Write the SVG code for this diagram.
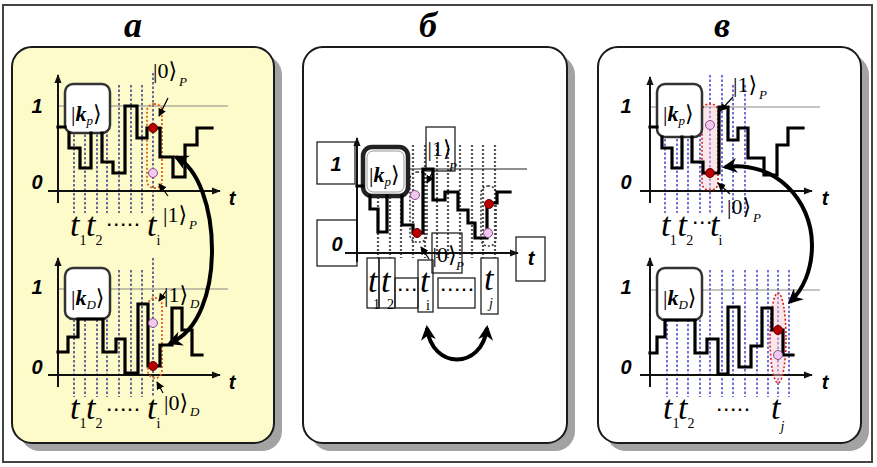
<svg xmlns="http://www.w3.org/2000/svg" width="877" height="467" viewBox="0 0 877 467">
<defs>
<style>
.frame{fill:#fff;stroke:#444;stroke-width:2}
.shadow{fill:#a3a3a3}
.pa{fill:#fdfbc9;stroke:#1a1a1a;stroke-width:2}
.pw{fill:#fff;stroke:#1a1a1a;stroke-width:2}
.axis{stroke:#111;stroke-width:2;fill:none}
.lvl{stroke:#8a8a8a;stroke-width:1.2;fill:none}
.sig{stroke:#000;stroke-width:3.2;fill:none;stroke-linejoin:miter;stroke-linecap:square}
.dn{stroke:#1c1c7a;stroke-width:1.3;stroke-dasharray:2.5 2;fill:none}
.db{stroke:#2525c8;stroke-width:1.3;stroke-dasharray:2.5 2;fill:none}
.dg{stroke:#555;stroke-width:2.2;stroke-dasharray:2 2;fill:none}
.kbox{fill:#fff;stroke:#333;stroke-width:2.5}
.kboxb{fill:#fff;stroke:#222;stroke-width:4.5}
.lbox{fill:#fff;stroke:#222;stroke-width:1.3}
.obox{fill:none;stroke:#222;stroke-width:1.3}
.zone{fill:none;stroke:#e0601c;stroke-width:1.8;stroke-dasharray:2 2}
.zonep{fill:#f6c8d0;fill-opacity:.45;stroke:#d82020;stroke-width:1.6;stroke-dasharray:2 2}
.zoneb{fill:none;stroke:#333;stroke-width:1.5;stroke-dasharray:2 2}
.red{fill:#b80000;stroke:#6a0000;stroke-width:1}
.pink{fill:#f3c8f0;stroke:#8a4f8f;stroke-width:1}
.curve{stroke:#000;stroke-width:4;fill:none}
.sarr{stroke:#000;stroke-width:1.2;fill:none}
.hd{font-family:"Liberation Serif",serif;font-style:italic;font-weight:bold;font-size:36px;fill:#000}
.ax{font-family:"Liberation Sans",Arial,sans-serif;font-style:italic;font-weight:bold;font-size:20px;fill:#000}
.tt{font-family:"Liberation Serif",serif;font-style:italic;font-size:34px;fill:#000}
.sb{font-family:"Liberation Serif",serif;font-size:14px;fill:#000}
.kt{font-family:"Liberation Serif","DejaVu Serif",serif;font-size:22px;fill:#000}
.ks{font-family:"Liberation Serif",serif;font-style:italic;font-weight:normal;font-size:13px;fill:#000}
.kk{font-style:italic;font-weight:bold}
.dt{font-family:"Liberation Sans",Arial,sans-serif;font-weight:bold;font-size:16px;letter-spacing:2.5px;fill:#000}
</style>
<marker id="ax" viewBox="0 0 10 10" refX="9" refY="5" markerWidth="9" markerHeight="9" markerUnits="userSpaceOnUse" orient="auto"><path d="M0,1L10,5L0,9z" fill="#111"/></marker>
<marker id="ca" viewBox="0 0 10 10" refX="8" refY="5" markerWidth="15" markerHeight="15" markerUnits="userSpaceOnUse" orient="auto-start-reverse"><path d="M0,0L10,5L0,10L3,5z" fill="#000"/></marker>
<marker id="sa" viewBox="0 0 10 10" refX="9" refY="5" markerWidth="8" markerHeight="8" markerUnits="userSpaceOnUse" orient="auto"><path d="M0,0L10,5L0,10z" fill="#000"/></marker>
</defs>

<rect class="frame" x="3" y="5" width="869" height="457"/>

<g id="headers">
<text class="hd" x="133" y="37" text-anchor="middle">а</text>
<text class="hd" x="428" y="37" text-anchor="middle">б</text>
<text class="hd" x="722" y="37" text-anchor="middle">в</text>
</g>

<g id="panel-a">
<rect class="shadow" x="20" y="55" width="262" height="396" rx="20"/>
<rect class="pa" x="12" y="47" width="262" height="396" rx="20"/>
<g id="a-top">
<path class="dn" d="M74,85V213M85,85V213M97,85V213M107,85V213M119,85V213M131,85V213M142,85V213M153,73V213"/>
<path class="lvl" d="M58,106H228"/>
<line class="axis" x1="58" y1="203" x2="58" y2="75" marker-end="url(#ax)"/>
<line class="axis" x1="48" y1="191" x2="220" y2="191" marker-end="url(#ax)"/>
<rect class="zone" x="147" y="104" width="15" height="84" rx="7"/>
<g id="a-top-kp"><rect class="kbox" x="65" y="84" width="45" height="49" rx="8"/>
<text class="kt" x="71" y="121" font-size="24">|<tspan class="kk">k</tspan><tspan class="ks" dy="4">p</tspan><tspan dy="-4">⟩</tspan></text></g>
<path class="sig" d="M58,127H65M69,133V148H80V168H91V133M102,133V162H113V173H125V106H137V138H147V128H160V157H173V177H185V145H197V128H212"/>
<circle class="red" cx="153" cy="128" r="4.5"/>
<circle class="pink" cx="153" cy="173" r="4.5"/>
<text class="ax" x="37" y="113" text-anchor="middle">1</text>
<text class="ax" x="37" y="189" text-anchor="middle">0</text>
<text class="ax" x="232" y="205" text-anchor="middle">t</text>
<text class="kt" x="153" y="78">|0⟩</text><text class="ks" x="179" y="86">P</text>
<text class="kt" x="163" y="222">|1⟩</text><text class="ks" x="189" y="229">P</text>
<text class="tt" x="70" y="236">t</text><text class="sb" x="79.6" y="245">1</text>
<text class="tt" x="86" y="236">t</text><text class="sb" x="95.6" y="245">2</text>
<text class="dt" x="107" y="226">.....</text>
<text class="tt" x="147" y="236">t</text><text class="sb" x="156.6" y="245">i</text>
</g>
<g id="a-bottom">
<path class="dn" d="M74,270V397M85,270V397M97,270V397M107,270V397M119,270V397M131,270V397M142,270V397M153,258V397"/>
<path class="lvl" d="M58,289H228"/>
<line class="axis" x1="58" y1="387" x2="58" y2="258" marker-end="url(#ax)"/>
<line class="axis" x1="48" y1="375" x2="220" y2="375" marker-end="url(#ax)"/>
<rect class="zone" x="148" y="298" width="14" height="80" rx="7"/>
<g id="a-bottom-kd"><rect class="kbox" x="65" y="268" width="45" height="51" rx="8"/>
<text class="kt" x="71" y="305" font-size="24">|<tspan class="kk">k</tspan><tspan class="ks" dy="4">D</tspan><tspan dy="-4">⟩</tspan></text></g>
<path class="sig" d="M58,352H68V337H78V319H103V352H116V339H125V373H138V304H148V366H160V345H172V308H182V330H192V355H202"/>
<circle class="red" cx="153" cy="366" r="4.5"/>
<circle class="pink" cx="153" cy="323" r="4.5"/>
<text class="ax" x="37" y="294" text-anchor="middle">1</text>
<text class="ax" x="37" y="374" text-anchor="middle">0</text>
<text class="ax" x="232" y="389" text-anchor="middle">t</text>
<text class="kt" x="164" y="302">|1⟩</text><text class="ks" x="190" y="308">D</text>
<text class="kt" x="164" y="410">|0⟩</text><text class="ks" x="190" y="416">D</text>
<text class="tt" x="70" y="419">t</text><text class="sb" x="79.6" y="428">1</text>
<text class="tt" x="86" y="419">t</text><text class="sb" x="95.6" y="428">2</text>
<text class="dt" x="107" y="411">.....</text>
<text class="tt" x="147" y="419">t</text><text class="sb" x="156.6" y="428">i</text>
</g>
</g>

<g id="panel-b">
<rect class="shadow" x="311" y="55" width="264" height="396" rx="20"/>
<rect class="pw" x="303" y="47" width="264" height="396" rx="20"/>
<path class="dg" d="M378,145V258M390,145V258M401,145V258M413,145V258M425,145V258M437,145V258M448,145V258M460,145V258M472,145V258M483,145V258M495,145V258"/>
<path class="lvl" d="M408,169H527" style="stroke:#222"/>
<g id="b-label-1"><rect class="lbox" x="317" y="142" width="38" height="42"/><text class="ax" x="336" y="171" text-anchor="middle" font-size="23">1</text></g>
<g id="b-label-0"><rect class="lbox" x="317" y="220" width="40" height="46"/><text class="ax" x="337" y="251" text-anchor="middle" font-size="23">0</text></g>
<g id="b-label-t"><rect class="lbox" x="516" y="237" width="29" height="44"/><text class="ax" x="531" y="265" text-anchor="middle" font-size="25">t</text></g>
<line class="axis" x1="357" y1="262" x2="357" y2="138" marker-end="url(#ax)"/>
<line class="axis" x1="345" y1="253" x2="518" y2="253" marker-end="url(#ax)"/>
<rect class="zoneb" x="410" y="172" width="17" height="70" rx="7"/>
<rect class="zoneb" x="481" y="186" width="15" height="60" rx="7"/>
<g id="b-kp"><rect class="kboxb" x="363" y="147" width="45" height="49" rx="9"/>
<rect x="367" y="151" width="37" height="41" rx="6" fill="none" stroke="#999" stroke-width="1"/>
<text class="kt" x="369" y="182" font-size="27">|<tspan class="kk">k</tspan><tspan class="ks" dy="4">p</tspan><tspan dy="-4">⟩</tspan></text></g>
<g id="b-ket1"><rect class="obox" x="426" y="127" width="29" height="44"/><text class="kt" x="427.5" y="156" font-size="18">|1⟩</text><text class="ks" x="449" y="171" font-size="10">P</text></g>
<g id="b-ket0"><rect class="obox" x="432" y="233" width="30" height="40"/><text class="kt" x="432.5" y="262" font-size="18">|0⟩</text><text class="ks" x="456" y="270" font-size="10">P</text></g>
<path class="sig" d="M357,186H363M370,196V209H378V232H387V196M402,196V225H413V233H423V169H433V200H445V192H458V210H468V223H475V238H487V203H497V192H510"/>
<circle class="red" cx="417" cy="233" r="4.5"/>
<circle class="pink" cx="415" cy="195" r="4.5"/>
<circle class="red" cx="489" cy="204" r="4.5"/>
<circle class="pink" cx="488" cy="233" r="4.5"/>
<g id="b-times">
<rect class="obox" x="367" y="258" width="12" height="50"/>
<rect class="obox" x="379" y="258" width="16" height="50"/>
<rect class="obox" x="395" y="278" width="23" height="30"/>
<rect class="obox" x="418" y="260" width="15" height="52"/>
<rect class="obox" x="438" y="278" width="37" height="30"/>
<rect class="obox" x="481" y="258" width="17" height="56"/>
<text class="tt" x="368" y="292" font-size="36">t</text><text class="sb" x="373" y="309" font-size="10">1</text>
<text class="tt" x="381" y="292" font-size="36">t</text><text class="sb" x="387" y="309" font-size="10">2</text>
<text class="dt" x="398" y="291" font-size="14" letter-spacing="1.5">...</text>
<text class="tt" x="420" y="292" font-size="36">t</text><text class="sb" x="426" y="310" font-size="10">i</text>
<text class="dt" x="441" y="291" font-size="14" letter-spacing="1.8">.....</text>
<text class="tt" x="484" y="290" font-size="36">t</text><text class="sb" x="489" y="308" font-size="10" font-style="italic">j</text>
</g>
</g>

<g id="panel-c">
<rect class="shadow" x="606" y="55" width="263" height="396" rx="20"/>
<rect class="pw" x="598" y="47" width="263" height="396" rx="20"/>
<g id="c-top">
<path class="db" d="M665,85V213M677,85V213M688,85V213M700,85V213M710,75V213M722,75V213M733,85V213M745,85V213"/>
<path class="lvl" d="M650,107H820"/>
<line class="axis" x1="650" y1="203" x2="650" y2="77" marker-end="url(#ax)"/>
<line class="axis" x1="640" y1="191" x2="812" y2="191" marker-end="url(#ax)"/>
<rect class="zonep" x="702" y="104" width="16" height="86" rx="7"/>
<g id="c-top-kp"><rect class="kbox" x="657" y="84" width="45" height="53" rx="8"/>
<text class="kt" x="663" y="121" font-size="24">|<tspan class="kk">k</tspan><tspan class="ks" dy="4">p</tspan><tspan dy="-4">⟩</tspan></text></g>
<path class="sig" d="M650,127H657M662,137V148H672V168H682V137M692,137V162H703V173H719V107H728V140H738V128H748V158H764V175H777V145H788V128H803"/>
<circle class="red" cx="710" cy="173" r="4.5"/>
<circle class="pink" cx="710" cy="125" r="4.5"/>
<text class="ax" x="626" y="113" text-anchor="middle">1</text>
<text class="ax" x="626" y="189" text-anchor="middle">0</text>
<text class="ax" x="825" y="205" text-anchor="middle">t</text>
<text class="kt" x="733" y="92">|1⟩</text><text class="ks" x="759" y="99">P</text>
<text class="kt" x="727" y="214">|0⟩</text><text class="ks" x="753" y="222">P</text>
<text class="tt" x="661" y="236" font-size="30">t</text><text class="sb" x="669.8" y="245" font-size="13">1</text>
<text class="tt" x="677.5" y="236" font-size="30">t</text><text class="sb" x="686.3" y="245" font-size="13">2</text>
<text class="dt" x="693" y="224" font-size="10" letter-spacing="0.5">...</text>
<text class="tt" x="710" y="236" font-size="30">t</text><text class="sb" x="718.6" y="245" font-size="13">i</text>
</g>
<g id="c-bottom">
<path class="db" d="M667,270V397M677,270V397M688,270V397M700,270V397M710,270V397M722,270V397M733,270V397M745,270V397M757,270V397M768,270V397M778,270V397M789,270V397"/>
<path class="lvl" d="M650,290H820"/>
<line class="axis" x1="650" y1="387" x2="650" y2="258" marker-end="url(#ax)"/>
<line class="axis" x1="640" y1="375" x2="812" y2="375" marker-end="url(#ax)"/>
<ellipse class="zonep" cx="778" cy="338" rx="8" ry="45"/>
<g id="c-bottom-kd"><rect class="kbox" x="657" y="268" width="45" height="52" rx="8"/>
<text class="kt" x="663" y="305" font-size="24">|<tspan class="kk">k</tspan><tspan class="ks" dy="4">D</tspan><tspan dy="-4">⟩</tspan></text></g>
<path class="sig" d="M650,353H657V337H665V320H695V353H707V339H718V374H728V307H739V367H751V346H762V308H772V330H783V355H793"/>
<circle class="red" cx="778" cy="330" r="4.5"/>
<circle class="pink" cx="778" cy="355" r="4.5"/>
<text class="ax" x="626" y="294" text-anchor="middle">1</text>
<text class="ax" x="626" y="374" text-anchor="middle">0</text>
<text class="ax" x="825" y="389" text-anchor="middle">t</text>
<text class="tt" x="663" y="419">t</text><text class="sb" x="672.6" y="428">1</text>
<text class="tt" x="678" y="419">t</text><text class="sb" x="687.6" y="428">2</text>
<text class="dt" x="717" y="411">.....</text>
<text class="tt" x="771" y="419">t</text><text class="sb" x="780.6" y="431" font-style="italic">j</text>
</g>
</g>

<g id="connectors">
<path class="curve" d="M176,157C222,180 228,320 170,343" marker-start="url(#ca)" marker-end="url(#ca)"/>
<path class="curve" d="M427,328C432,370 482,370 487,328" marker-start="url(#ca)" marker-end="url(#ca)"/>
<path class="curve" d="M725,167C775,160 812,200 812,245C812,270 803,290 790,302" marker-start="url(#ca)" marker-end="url(#ca)"/>
<path class="sarr" d="M168,98L159,116" marker-end="url(#sa)"/>
<path class="sarr" d="M168,196L159,184" marker-end="url(#sa)"/>
<path class="sarr" d="M166,291L159,301" marker-end="url(#sa)"/>
<path class="sarr" d="M163,393L157,382" marker-end="url(#sa)"/>
<path class="sarr" d="M733,97L720,111" marker-end="url(#sa)"/>
<path class="sarr" d="M730,194L718,183" marker-end="url(#sa)"/>
<path class="sarr" d="M433,171L427,183" marker-end="url(#sa)"/>
<path class="sarr" d="M429,259L421,247" marker-end="url(#sa)"/>
</g>
</svg>
